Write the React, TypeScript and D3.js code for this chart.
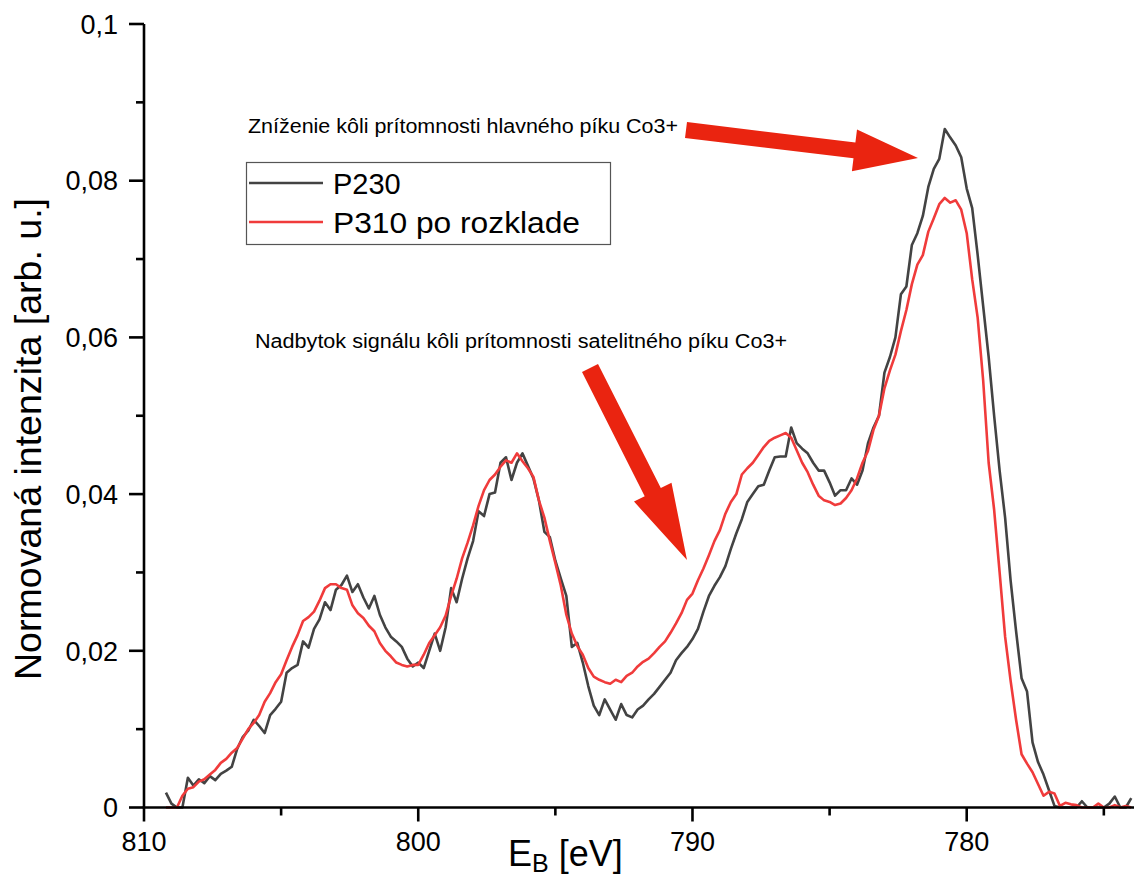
import React from "react";
import * as d3 from "d3";

const W = 1134;
const H = 877;

// Binding energy grid (eV), 0.2 eV sampling from 809.2 down to 774.0
const energyStart = 809.2;
const energyStep = 0.2;

const p230 = [
  0.0019, 0.0005, 0, 0, 0.0038, 0.0028, 0.0036, 0.0031, 0.0040, 0.0035,
  0.0043, 0.0047, 0.0052, 0.0075, 0.0090, 0.0098, 0.0112, 0.0104, 0.0095, 0.0118,
  0.0126, 0.0135, 0.0172, 0.0178, 0.0182, 0.0212, 0.0204, 0.0228, 0.0240, 0.0262,
  0.0252, 0.0278, 0.0284, 0.0296, 0.0275, 0.0285, 0.0268, 0.0254, 0.0270, 0.0246,
  0.0230, 0.0218, 0.0212, 0.0205, 0.0190, 0.0180, 0.0185, 0.0178, 0.0200, 0.0222,
  0.0200, 0.0230, 0.0280, 0.0262, 0.0292, 0.0318, 0.0340, 0.0378, 0.0372, 0.0400,
  0.0402, 0.0440, 0.0447, 0.0418, 0.0440, 0.0452, 0.0436, 0.0420, 0.0392, 0.0352,
  0.0345, 0.0315, 0.0292, 0.0270, 0.0205, 0.0210, 0.0185, 0.0155, 0.0130, 0.0118,
  0.0138, 0.0125, 0.0112, 0.0132, 0.0118, 0.0115, 0.0125, 0.0130, 0.0138, 0.0145,
  0.0154, 0.0163, 0.0172, 0.0188, 0.0197, 0.0205, 0.0215, 0.0228, 0.0250, 0.0270,
  0.0283, 0.0294, 0.0308, 0.0330, 0.0350, 0.0368, 0.0390, 0.0400, 0.0410, 0.0412,
  0.0430, 0.0447, 0.0448, 0.0448, 0.0485, 0.0465, 0.0458, 0.0452, 0.0440, 0.0430,
  0.0430, 0.0415, 0.0398, 0.0405, 0.0405, 0.0420, 0.0412, 0.0430, 0.0465, 0.0485,
  0.0500, 0.0555, 0.0575, 0.0600, 0.0655, 0.0665, 0.0718, 0.0733, 0.0755, 0.0792,
  0.0815, 0.0828, 0.0866, 0.0855, 0.0845, 0.0830, 0.0790, 0.0765, 0.0705, 0.0640,
  0.0575, 0.0500, 0.0430, 0.0370, 0.0290, 0.0225, 0.0165, 0.0148, 0.0083, 0.0058,
  0.0042, 0.0022, 0.0002, 0, 0, 0, 0, 0.0008, 0, 0,
  0, 0, 0.0005, 0.0014, 0, 0, 0.0012,
];

const p310 = [
  0, 0, 0, 0.0015, 0.0024, 0.0026, 0.0033, 0.0036, 0.0042, 0.0048,
  0.0057, 0.0062, 0.0070, 0.0076, 0.0088, 0.0100, 0.0108, 0.0118, 0.0135, 0.0146,
  0.0160, 0.0170, 0.0188, 0.0205, 0.0220, 0.0238, 0.0243, 0.0250, 0.0264, 0.0280,
  0.0285, 0.0285, 0.0280, 0.0278, 0.0258, 0.0248, 0.0242, 0.0232, 0.0225, 0.0210,
  0.0200, 0.0193, 0.0185, 0.0182, 0.0180, 0.0182, 0.0182, 0.0195, 0.0210, 0.0220,
  0.0230, 0.0245, 0.0270, 0.0292, 0.0318, 0.0338, 0.0360, 0.0385, 0.0405, 0.0418,
  0.0425, 0.0435, 0.0443, 0.0440, 0.0452, 0.0442, 0.0433, 0.0422, 0.0392, 0.0370,
  0.0340, 0.0312, 0.0283, 0.0246, 0.0222, 0.0206, 0.0195, 0.0178, 0.0167, 0.0163,
  0.0160, 0.0158, 0.0163, 0.0160, 0.0168, 0.0172, 0.0180, 0.0186, 0.0190, 0.0197,
  0.0205, 0.0212, 0.0223, 0.0235, 0.0248, 0.0265, 0.0273, 0.0290, 0.0305, 0.0322,
  0.0340, 0.0354, 0.0375, 0.0390, 0.0400, 0.0425, 0.0433, 0.0440, 0.0450, 0.0460,
  0.0468, 0.0472, 0.0475, 0.0478, 0.0472, 0.0456, 0.0440, 0.0428, 0.0412, 0.0398,
  0.0392, 0.0390, 0.0386, 0.0388, 0.0395, 0.0405, 0.0420, 0.0440, 0.0455, 0.0482,
  0.0500, 0.0535, 0.0558, 0.0578, 0.0608, 0.0635, 0.0668, 0.0693, 0.0705, 0.0735,
  0.0752, 0.0770, 0.0778, 0.0772, 0.0775, 0.0763, 0.0733, 0.0674, 0.0625, 0.0545,
  0.0440, 0.0380, 0.0300, 0.0218, 0.0162, 0.0112, 0.0068, 0.0056, 0.0045, 0.0030,
  0.0015, 0.0020, 0.0018, 0.0002, 0.0006, 0.0004, 0.0003, 0, 0, 0,
  0.0005, 0, 0, 0.0003, 0, 0.0002, 0,
];

const xMajorTicks = [810, 800, 790, 780];
const xMinorTicks = [805, 795, 785, 775];
const yMajorTicks = [0, 0.02, 0.04, 0.06, 0.08, 0.1];
const yMinorTicks = [0.01, 0.03, 0.05, 0.07, 0.09];
const yTickLabels = ["0", "0,02", "0,04", "0,06", "0,08", "0,1"];

const seriesNames = ["P230", "P310 po rozklade"];
const seriesColors = ["#434343", "#f03b3b"];

const annotationTop = "Zníženie kôli prítomnosti hlavného píku Co3+";
const annotationMid = "Nadbytok signálu kôli prítomnosti satelitného píku Co3+";

const FONT = "'Liberation Sans', Arial, Helvetica, sans-serif";
const ARROW = "#ea2410";

function arrowPath(
  x0: number, y0: number, x1: number, y1: number,
  shaftW: number, headW: number, headL: number
) {
  const dx = x1 - x0, dy = y1 - y0;
  const L = Math.hypot(dx, dy);
  const ux = dx / L, uy = dy / L;
  const px = -uy, py = ux;
  const bx = x1 - ux * headL, by = y1 - uy * headL;
  const pts = [
    [x0 + px * shaftW / 2, y0 + py * shaftW / 2],
    [bx + px * shaftW / 2, by + py * shaftW / 2],
    [bx + px * headW / 2, by + py * headW / 2],
    [x1, y1],
    [bx - px * headW / 2, by - py * headW / 2],
    [bx - px * shaftW / 2, by - py * shaftW / 2],
    [x0 - px * shaftW / 2, y0 - py * shaftW / 2],
  ];
  return "M" + pts.map((p) => p[0].toFixed(1) + "," + p[1].toFixed(1)).join("L") + "Z";
}

export default function App() {
  const x = d3.scaleLinear().domain([810, 773.9]).range([144, 1134]);
  const y = d3.scaleLinear().domain([0, 0.1]).range([807.5, 24]);

  const energies = p230.map((_, i) => +(energyStart - i * energyStep).toFixed(2));
  const line = d3
    .line<number>()
    .x((_, i) => x(energies[i]))
    .y((v) => y(v));

  const series = [p230, p310];

  return (
    <svg
      width={W}
      height={H}
      style={{ position: "absolute", left: 0, top: 0, background: "#fff" }}
      fontFamily={FONT}
    >
      <rect x={0} y={0} width={W} height={H} fill="#fff" />

      {/* data lines */}
      {series.map((s, k) => (
        <path
          key={k}
          d={line(s) || ""}
          fill="none"
          stroke={seriesColors[k]}
          strokeWidth={2.6}
          strokeLinejoin="round"
        />
      ))}

      {/* axes */}
      <line x1={x(810)} y1={y(0.1)} x2={x(810)} y2={y(0)} stroke="#000" strokeWidth={2.6} />
      <line x1={x(810) - 1.3} y1={y(0)} x2={W} y2={y(0)} stroke="#000" strokeWidth={2.6} />

      {yMajorTicks.map((t, i) => (
        <g key={"ym" + i}>
          <line x1={x(810) - 15} x2={x(810)} y1={y(t)} y2={y(t)} stroke="#000" strokeWidth={2.6} />
          <text
            x={118}
            y={y(t)}
            dy="0.36em"
            textAnchor="end"
            fontSize={27}
            fill="#000"
          >
            {yTickLabels[i]}
          </text>
        </g>
      ))}
      {yMinorTicks.map((t, i) => (
        <line key={"yn" + i} x1={x(810) - 8} x2={x(810)} y1={y(t)} y2={y(t)} stroke="#000" strokeWidth={2.6} />
      ))}

      {xMajorTicks.map((t, i) => (
        <g key={"xm" + i}>
          <line x1={x(t)} x2={x(t)} y1={y(0)} y2={y(0) + 14} stroke="#000" strokeWidth={2.6} />
          <text x={x(t)} y={851} textAnchor="middle" fontSize={27} fill="#000">
            {t}
          </text>
        </g>
      ))}
      {xMinorTicks.map((t, i) => (
        <line key={"xn" + i} x1={x(t)} x2={x(t)} y1={y(0)} y2={y(0) + 8} stroke="#000" strokeWidth={2.6} />
      ))}

      {/* axis titles */}
      <text
        transform={`translate(41, 439) rotate(-90)`}
        textAnchor="middle"
        fontSize={36}
        textLength={482}
        lengthAdjust="spacingAndGlyphs"
        fill="#000"
      >
        Normovaná intenzita [arb. u.]
      </text>
      <text x={508} y={866} fontSize={36} fill="#000">
        E<tspan fontSize={25} dy={6}>B</tspan>
        <tspan dy={-6}> [eV]</tspan>
      </text>

      {/* legend */}
      <rect x={246.5} y={162.5} width={364} height={82} fill="#fff" stroke="#555" strokeWidth={1.2} />
      {seriesNames.map((n, k) => (
        <g key={"lg" + k}>
          <line x1={249} x2={323} y1={183 + k * 39} y2={183 + k * 39} stroke={seriesColors[k]} strokeWidth={2.6} />
          <text
            x={333}
            y={194 + k * 39}
            fontSize={29}
            fill="#000"
            textLength={k === 1 ? 247 : undefined}
            lengthAdjust={k === 1 ? "spacingAndGlyphs" : undefined}
          >
            {n}
          </text>
        </g>
      ))}

      {/* annotations */}
      <text x={248} y={133} fontSize={20} fill="#000" textLength={430} lengthAdjust="spacingAndGlyphs">
        {annotationTop}
      </text>
      <text x={255} y={348} fontSize={20} fill="#000" textLength={532} lengthAdjust="spacingAndGlyphs">
        {annotationMid}
      </text>
      <path d={arrowPath(686, 130, 918, 158, 16, 42, 64)} fill={ARROW} />
      <path d={arrowPath(590, 368, 687, 560, 18, 42, 76)} fill={ARROW} />
    </svg>
  );
}
